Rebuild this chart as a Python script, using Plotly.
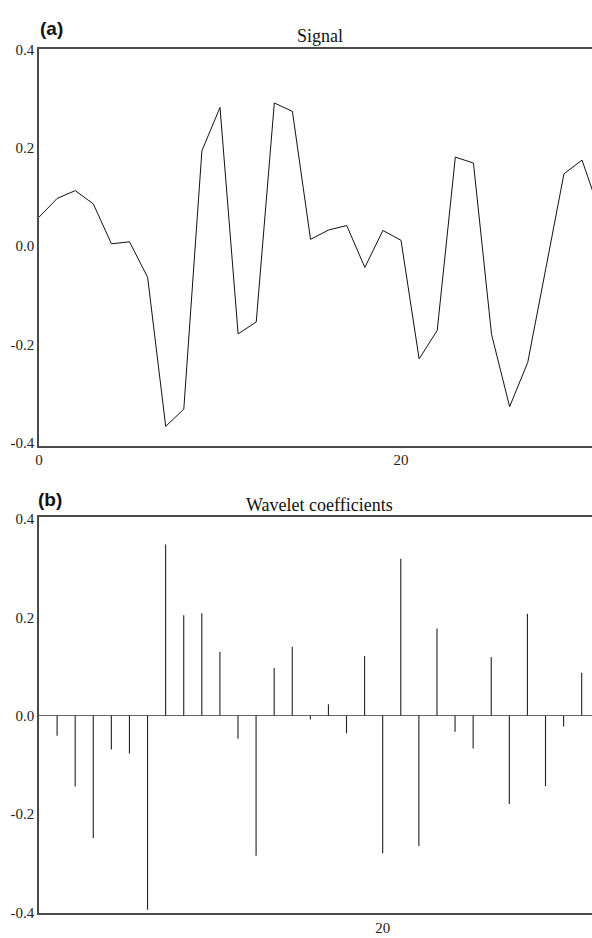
import plotly.graph_objects as go

# ---- data ----
signal_x = list(range(0, 32))
signal_y = [0.059, 0.097, 0.113, 0.086, 0.005, 0.009, -0.063, -0.366, -0.331, 0.194,
            0.282, -0.178, -0.154, 0.291, 0.274, 0.014, 0.033, 0.042, -0.043, 0.032,
            0.012, -0.229, -0.171, 0.181, 0.169, -0.179, -0.326, -0.236, -0.045, 0.147,
            0.175, 0.068]

coef_x = list(range(2, 32))
coef_y = [-0.041, -0.144, -0.249, -0.069, -0.077, -0.395, 0.348, 0.204, 0.208, 0.130,
          -0.047, -0.285, 0.097, 0.140, -0.008, 0.023, -0.036, 0.121, -0.280, 0.319,
          -0.265, 0.177, -0.033, -0.067, 0.119, -0.180, 0.207, -0.143, -0.022, 0.087]

y_ticks = [0.4, 0.2, 0.0, -0.2, -0.4]
y_tick_text = ["0.4", "0.2", "0.0", "-0.2", "-0.4"]
top_x_ticks = [0, 20]
bottom_x_ticks = [20]

# ---- layout helpers (pixel -> paper) ----
W, H = 592, 938
L = 39
def px(x):
    return (x - L) / (W - L)
def py(y):
    return 1 - y / H

serif = "Liberation Serif"
sans = "Liberation Sans"
axis_col = "#4a4a4a"

# stems built from the coefficient arrays
stem_x, stem_y = [], []
for xv, yv in zip(coef_x, coef_y):
    stem_x += [xv, xv, None]
    stem_y += [0, yv, None]

fig = go.Figure()
fig.add_trace(go.Scatter(x=signal_x, y=signal_y, mode="lines",
                         line=dict(color="#111", width=1), xaxis="x", yaxis="y",
                         showlegend=False, hoverinfo="skip"))
fig.add_trace(go.Scatter(x=stem_x, y=stem_y, mode="lines",
                         line=dict(color="#222", width=1.1), xaxis="x2", yaxis="y2",
                         showlegend=False, hoverinfo="skip", connectgaps=False))

tickfont = dict(family=serif, size=15, color="#222")

fig.update_layout(
    width=W, height=H,
    margin=dict(l=L, r=0, t=0, b=0),
    paper_bgcolor="white", plot_bgcolor="white",
    xaxis=dict(domain=[0, 1], range=[0, 30.55], anchor="y",
               tickvals=top_x_ticks, ticktext=[str(v) for v in top_x_ticks],
               showgrid=False, zeroline=False, showline=True, mirror=True,
               linecolor=axis_col, linewidth=1.5, ticks="", tickfont=tickfont),
    yaxis=dict(domain=[py(444.7), py(42)], range=[-0.405, 0.4], anchor="x",
               tickvals=y_ticks, ticktext=y_tick_text,
               showgrid=False, zeroline=False, showline=True,
               linecolor=axis_col, linewidth=1.5, ticks="", tickfont=tickfont),
    xaxis2=dict(domain=[0, 1], range=[1, 31.57], anchor="y2",
                tickvals=bottom_x_ticks, ticktext=[str(v) for v in bottom_x_ticks],
                showgrid=False, zeroline=False, showline=True, mirror=True,
                linecolor=axis_col, linewidth=1.5, ticks="", tickfont=tickfont),
    yaxis2=dict(domain=[py(920), py(517.7)], range=[-0.402, 0.403], anchor="x2",
                tickvals=y_ticks, ticktext=y_tick_text,
                showgrid=False, zeroline=True, zerolinecolor="#666", zerolinewidth=1.2,
                showline=True, linecolor=axis_col, linewidth=1.5, ticks="",
                tickfont=tickfont),
)

anns = [
    dict(text="<b>(a)</b>", x=px(38), y=py(21), xanchor="left", yanchor="middle",
         font=dict(family=sans, size=19, color="#111")),
    dict(text="<b>(b)</b>", x=px(36), y=py(499), xanchor="left", yanchor="middle",
         font=dict(family=sans, size=19, color="#111")),
    dict(text="Signal", x=px(320), y=py(41), xanchor="center", yanchor="bottom",
         font=dict(family=serif, size=18, color="#111")),
    dict(text="Wavelet coefficients", x=px(319.5), y=py(517), xanchor="center", yanchor="bottom",
         font=dict(family=serif, size=18, color="#111")),
]
for a in anns:
    fig.add_annotation(xref="paper", yref="paper", showarrow=False, **a)

fig.write_html("out.html")
